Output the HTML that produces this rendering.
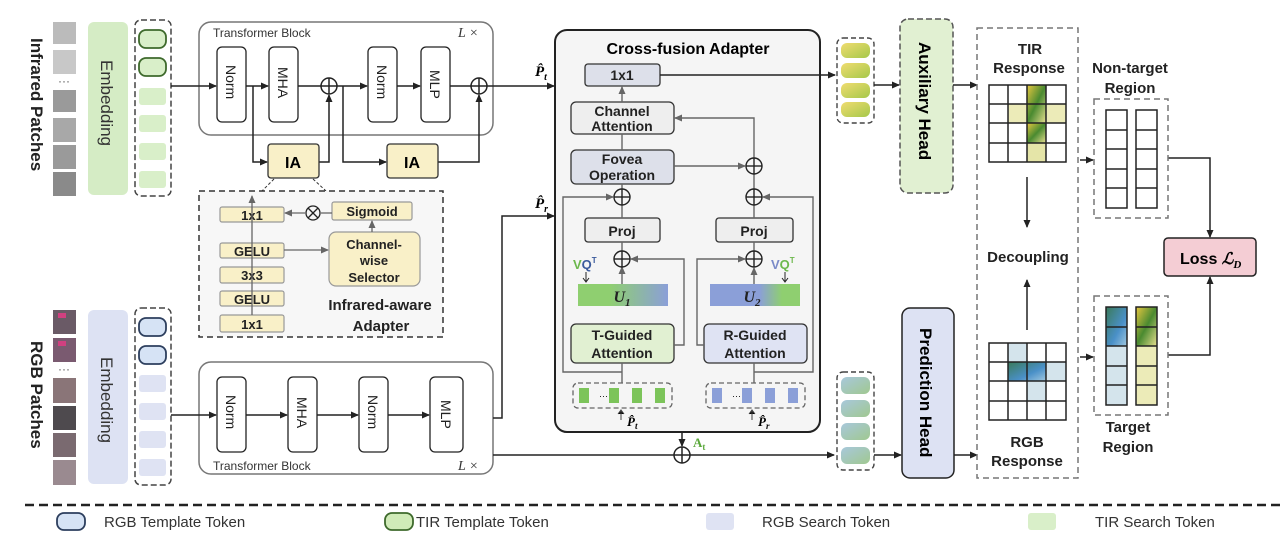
<!DOCTYPE html>
<html><head><meta charset="utf-8"><style>
body{margin:0;background:#fff;}
svg{display:block;font-family:"Liberation Sans",Arial,sans-serif;}
.b{font-weight:bold;}
</style></head><body>
<svg width="1280" height="543" viewBox="0 0 1280 543" xmlns="http://www.w3.org/2000/svg">
<defs>
<marker id="a" markerWidth="8" markerHeight="8" refX="7" refY="4" orient="auto" markerUnits="userSpaceOnUse"><path d="M0,0.5 L8,4 L0,7.5 z" fill="#222"/></marker>
<marker id="g" markerWidth="8" markerHeight="8" refX="7" refY="4" orient="auto" markerUnits="userSpaceOnUse"><path d="M0,0.5 L8,4 L0,7.5 z" fill="#666"/></marker>
<linearGradient id="u1" x1="0" x2="1"><stop offset="0.35" stop-color="#8fcf70"/><stop offset="1" stop-color="#8b9fd8"/></linearGradient>
<linearGradient id="u2" x1="0" x2="1"><stop offset="0.55" stop-color="#8b9fd8"/><stop offset="0.8" stop-color="#8fcf70"/></linearGradient>
<linearGradient id="yt" x1="0" y1="0" x2="1" y2="1"><stop offset="0" stop-color="#f0dc70"/><stop offset="1" stop-color="#a5c84a"/></linearGradient>
<linearGradient id="bt" x1="0" y1="0" x2="1" y2="1"><stop offset="0" stop-color="#a8c8dc"/><stop offset="1" stop-color="#a0c890"/></linearGradient>
<linearGradient id="hy" x1="0" y1="0" x2="1" y2="1"><stop offset="0" stop-color="#e8c840"/><stop offset="0.5" stop-color="#4a8a30"/><stop offset="1" stop-color="#e8e090"/></linearGradient>
<linearGradient id="hb" x1="0" y1="0" x2="1" y2="1"><stop offset="0" stop-color="#3a7a5a"/><stop offset="0.6" stop-color="#4a90c8"/><stop offset="1" stop-color="#a0c8e0"/></linearGradient>
</defs>

<!-- Infrared patches -->
<text class="b" font-size="17" transform="translate(31,38) rotate(90)" fill="#222">Infrared Patches</text>
<g fill="#9a9a9a">
<rect x="53" y="22" width="23" height="22" fill="#bbb"/><rect x="53" y="50" width="23" height="24" fill="#c8c8c8"/>
<rect x="53" y="90" width="23" height="22"/><rect x="53" y="118" width="23" height="24" fill="#a8a8a8"/>
<rect x="53" y="145" width="23" height="24"/><rect x="53" y="172" width="23" height="24" fill="#8a8a8a"/>
</g>
<text x="64" y="85" font-size="12" text-anchor="middle" fill="#555">···</text>
<rect x="88" y="22" width="40" height="173" rx="6" fill="#d5ecc5"/>
<text font-size="17" transform="translate(101,60) rotate(90)" fill="#333">Embedding</text>
<rect x="135" y="20" width="36" height="176" rx="6" fill="none" stroke="#444" stroke-dasharray="6,3" stroke-width="1.5"/>
<rect x="139" y="30" width="27" height="18" rx="7" fill="#d9efc9" stroke="#3e6a2c" stroke-width="1.8"/>
<rect x="139" y="58" width="27" height="18" rx="7" fill="#d9efc9" stroke="#3e6a2c" stroke-width="1.8"/>
<g fill="#d9efc9"><rect x="139" y="88" width="27" height="17" rx="3"/><rect x="139" y="115" width="27" height="17" rx="3"/><rect x="139" y="143" width="27" height="17" rx="3"/><rect x="139" y="171" width="27" height="17" rx="3"/></g>

<!-- Top transformer -->
<rect x="199" y="22" width="294" height="113" rx="12" fill="#fff" stroke="#777" stroke-width="1.5"/>
<text x="213" y="37" font-size="12" fill="#333">Transformer Block</text>
<text x="458" y="37" font-size="14" fill="#333" font-style="italic" font-family="Liberation Serif">L ×</text>
<g fill="#fff" stroke="#222" stroke-width="1.3">
<rect x="217" y="47" width="29" height="75" rx="5"/><rect x="269" y="47" width="29" height="75" rx="5"/>
<rect x="368" y="47" width="29" height="75" rx="5"/><rect x="421" y="47" width="29" height="75" rx="5"/>
</g>
<g font-size="14" fill="#222">
<text transform="translate(226,65) rotate(90)">Norm</text><text transform="translate(278,67) rotate(90)">MHA</text>
<text transform="translate(377,65) rotate(90)">Norm</text><text transform="translate(430,70) rotate(90)">MLP</text>
</g>
<g stroke="#222" stroke-width="1.5" fill="none">
<line x1="171" y1="86" x2="216" y2="86" marker-end="url(#a)"/>
<line x1="246" y1="86" x2="268" y2="86" marker-end="url(#a)"/>
<line x1="298" y1="86" x2="321" y2="86"/>
<line x1="337" y1="86" x2="367" y2="86" marker-end="url(#a)"/>
<line x1="397" y1="86" x2="420" y2="86" marker-end="url(#a)"/>
<line x1="450" y1="86" x2="471" y2="86"/>
<line x1="487" y1="86" x2="554" y2="86" marker-end="url(#a)"/>
<polyline points="253,86 253,162 267,162" marker-end="url(#a)"/>
<polyline points="319,162 329,162 329,95" marker-end="url(#a)"/>
<polyline points="343,86 343,162 386,162" marker-end="url(#a)"/>
<polyline points="438,162 479,162 479,95" marker-end="url(#a)"/>
<circle cx="329" cy="86" r="8"/><line x1="321" y1="86" x2="337" y2="86"/><line x1="329" y1="78" x2="329" y2="94"/>
<circle cx="479" cy="86" r="8"/><line x1="471" y1="86" x2="487" y2="86"/><line x1="479" y1="78" x2="479" y2="94"/>
</g>
<text x="535" y="76" font-size="15" class="b" font-style="italic" font-family="Liberation Serif">P̂<tspan font-size="10" dy="4">t</tspan></text>
<rect x="268" y="144" width="51" height="34" rx="3" fill="#f9f0c8" stroke="#333" stroke-width="1.3"/>
<rect x="387" y="144" width="51" height="34" rx="3" fill="#f9f0c8" stroke="#333" stroke-width="1.3"/>
<text x="293" y="168" font-size="16" class="b" text-anchor="middle">IA</text>
<text x="412" y="168" font-size="16" class="b" text-anchor="middle">IA</text>

<!-- Infrared-aware adapter -->
<line x1="274" y1="179" x2="262" y2="191" stroke="#333" stroke-dasharray="3,2"/>
<line x1="313" y1="179" x2="326" y2="191" stroke="#333" stroke-dasharray="3,2"/>
<rect x="199" y="191" width="244" height="146" fill="#f7f7f7" stroke="#333" stroke-width="1.5" stroke-dasharray="6,4"/>
<g fill="#f9f0c8" stroke="#999" stroke-width="1.2">
<rect x="220" y="207" width="64" height="15" rx="2"/><rect x="220" y="243" width="64" height="15" rx="2"/>
<rect x="220" y="267" width="64" height="16" rx="2"/><rect x="220" y="291" width="64" height="15" rx="2"/>
<rect x="220" y="315" width="64" height="17" rx="2"/>
<rect x="332" y="202" width="80" height="18" rx="2"/>
<rect x="329" y="232" width="91" height="54" rx="7"/>
</g>
<g font-size="13" class="b" text-anchor="middle" fill="#222">
<text x="252" y="220">1x1</text><text x="252" y="256">GELU</text><text x="252" y="280">3x3</text><text x="252" y="304">GELU</text><text x="252" y="329">1x1</text>
<text x="372" y="216">Sigmoid</text>
<text x="374" y="249">Channel-</text><text x="374" y="265">wise</text><text x="374" y="282">Selector</text>
<text x="380" y="310" font-size="15">Infrared-aware</text><text x="381" y="331" font-size="15">Adapter</text>
</g>
<g stroke="#666" stroke-width="1.3" fill="none">
<line x1="252" y1="315" x2="252" y2="196" marker-end="url(#g)"/>
<line x1="284" y1="250" x2="328" y2="250" marker-end="url(#g)"/>
<line x1="372" y1="232" x2="372" y2="221" marker-end="url(#g)"/>
<line x1="332" y1="213" x2="321" y2="213"/>
<line x1="305" y1="213" x2="285" y2="213" marker-end="url(#g)"/>
<circle cx="313" cy="213" r="7" stroke="#222"/><line x1="308" y1="208" x2="318" y2="218" stroke="#222"/><line x1="318" y1="208" x2="308" y2="218" stroke="#222"/>
</g>

<!-- RGB -->
<text class="b" font-size="17" transform="translate(31,341) rotate(90)" fill="#222">RGB Patches</text>
<g>
<rect x="53" y="310" width="23" height="24" fill="#6a5a66"/><rect x="53" y="338" width="23" height="24" fill="#7a5a70"/>
<rect x="53" y="378" width="23" height="25" fill="#8a7578"/><rect x="53" y="406" width="23" height="24" fill="#4e4a4e"/>
<rect x="53" y="433" width="23" height="24" fill="#7a6a70"/><rect x="53" y="460" width="23" height="25" fill="#9a8a90"/>
<rect x="58" y="313" width="8" height="5" fill="#d04080"/><rect x="58" y="341" width="8" height="5" fill="#d04080"/>
</g>
<text x="64" y="373" font-size="12" text-anchor="middle" fill="#555">···</text>
<rect x="88" y="310" width="40" height="174" rx="6" fill="#dde2f3"/>
<text font-size="17" transform="translate(101,357) rotate(90)" fill="#333">Embedding</text>
<rect x="135" y="308" width="36" height="177" rx="6" fill="none" stroke="#444" stroke-dasharray="6,3" stroke-width="1.5"/>
<rect x="139" y="318" width="27" height="18" rx="7" fill="#d6e3f5" stroke="#2d3f5e" stroke-width="1.8"/>
<rect x="139" y="346" width="27" height="18" rx="7" fill="#d6e3f5" stroke="#2d3f5e" stroke-width="1.8"/>
<g fill="#dfe3f3"><rect x="139" y="375" width="27" height="17" rx="3"/><rect x="139" y="403" width="27" height="17" rx="3"/><rect x="139" y="431" width="27" height="17" rx="3"/><rect x="139" y="459" width="27" height="17" rx="3"/></g>

<rect x="199" y="362" width="294" height="112" rx="12" fill="#fff" stroke="#777" stroke-width="1.5"/>
<text x="213" y="470" font-size="12" fill="#333">Transformer Block</text>
<text x="458" y="470" font-size="14" fill="#333" font-style="italic" font-family="Liberation Serif">L ×</text>
<g fill="#fff" stroke="#222" stroke-width="1.3">
<rect x="217" y="377" width="29" height="75" rx="5"/><rect x="288" y="377" width="29" height="75" rx="5"/>
<rect x="359" y="377" width="29" height="75" rx="5"/><rect x="430" y="377" width="33" height="75" rx="5"/>
</g>
<g font-size="14" fill="#222">
<text transform="translate(226,395) rotate(90)">Norm</text><text transform="translate(297,397) rotate(90)">MHA</text>
<text transform="translate(368,395) rotate(90)">Norm</text><text transform="translate(441,400) rotate(90)">MLP</text>
</g>
<g stroke="#222" stroke-width="1.5" fill="none">
<line x1="171" y1="415" x2="216" y2="415" marker-end="url(#a)"/>
<line x1="246" y1="415" x2="287" y2="415" marker-end="url(#a)"/>
<line x1="317" y1="415" x2="358" y2="415" marker-end="url(#a)"/>
<line x1="388" y1="415" x2="429" y2="415" marker-end="url(#a)"/>
<polyline points="493,418 502,418 502,216 554,216" marker-end="url(#a)"/>
<polyline points="493,455 674,455"/>
<line x1="690" y1="455" x2="834" y2="455" marker-end="url(#a)"/>
<line x1="682" y1="432" x2="682" y2="446" marker-end="url(#a)"/>
<circle cx="682" cy="455" r="8"/><line x1="674" y1="455" x2="690" y2="455"/><line x1="682" y1="447" x2="682" y2="463"/>
</g>
<text x="535" y="208" font-size="15" class="b" font-style="italic" font-family="Liberation Serif">P̂<tspan font-size="10" dy="4">r</tspan></text>
<text x="693" y="447" font-size="13" class="b" fill="#5aa83a" font-family="Liberation Serif">A<tspan font-size="9" dy="3">t</tspan></text>

<!-- Cross-fusion -->
<rect x="555" y="30" width="265" height="402" rx="12" fill="#f5f5f5" stroke="#222" stroke-width="2"/>
<text x="688" y="54" font-size="16" class="b" text-anchor="middle">Cross-fusion Adapter</text>
<g stroke="#333" stroke-width="1.3">
<rect x="585" y="64" width="75" height="22" rx="3" fill="#dde0ea"/>
<rect x="571" y="102" width="103" height="32" rx="5" fill="#eeeeee"/>
<rect x="571" y="150" width="103" height="34" rx="5" fill="#dde0ea"/>
<rect x="585" y="218" width="75" height="24" rx="3" fill="#eeeeee"/>
<rect x="716" y="218" width="77" height="24" rx="3" fill="#eeeeee"/>
<rect x="571" y="324" width="103" height="39" rx="5" fill="#e1f0d2"/>
<rect x="704" y="324" width="103" height="39" rx="5" fill="#dfe3f3"/>
</g>
<rect x="578" y="284" width="90" height="22" fill="url(#u1)"/>
<rect x="710" y="284" width="90" height="22" fill="url(#u2)"/>
<g font-size="14" class="b" text-anchor="middle" fill="#222">
<text x="622" y="80">1x1</text>
<text x="622" y="116">Channel</text><text x="622" y="131">Attention</text>
<text x="622" y="164">Fovea</text><text x="622" y="180">Operation</text>
<text x="622" y="236">Proj</text><text x="754" y="236">Proj</text>
<text x="622" y="340">T-Guided</text><text x="622" y="358">Attention</text>
<text x="755" y="340">R-Guided</text><text x="755" y="358">Attention</text>
<text x="622" y="302" font-style="italic" font-family="Liberation Serif" font-size="16">U<tspan font-size="11" dy="4">1</tspan></text>
<text x="752" y="302" font-style="italic" font-family="Liberation Serif" font-size="16">U<tspan font-size="11" dy="4">2</tspan></text>
</g>
<text x="573" y="269" font-size="13" class="b"><tspan fill="#6cb84c">V</tspan><tspan fill="#3a5a9c">Q</tspan><tspan font-size="8" dy="-6" fill="#3a5a9c">T</tspan></text>
<text x="771" y="269" font-size="13" class="b"><tspan fill="#7a8ac8">V</tspan><tspan fill="#6cb84c">Q</tspan><tspan font-size="8" dy="-6" fill="#6cb84c">T</tspan></text>
<g stroke="#222" stroke-width="1" fill="none">
<path d="M586,272 L586,281 M583,278 L586,282 L589,278"/>
<path d="M785,272 L785,281 M782,278 L785,282 L788,278"/>
</g>
<!-- token rows -->
<rect x="573" y="383" width="99" height="25" rx="5" fill="none" stroke="#666" stroke-dasharray="5,3" stroke-width="1.3"/>
<rect x="706" y="383" width="99" height="25" rx="5" fill="none" stroke="#666" stroke-dasharray="5,3" stroke-width="1.3"/>
<g fill="#7cc45a"><rect x="579" y="388" width="10" height="15"/><rect x="609" y="388" width="10" height="15"/><rect x="632" y="388" width="10" height="15"/><rect x="655" y="388" width="10" height="15"/></g>
<g fill="#8b9fd8"><rect x="712" y="388" width="10" height="15"/><rect x="742" y="388" width="10" height="15"/><rect x="765" y="388" width="10" height="15"/><rect x="788" y="388" width="10" height="15"/></g>
<text x="599" y="399" font-size="9">···</text><text x="732" y="399" font-size="9">···</text>
<g stroke="#444" stroke-width="1"><path d="M621,420 L621,411 M618,414 L621,410 L624,414"/><path d="M752,420 L752,411 M749,414 L752,410 L755,414"/></g>
<text x="627" y="426" font-size="13" font-style="italic" font-family="Liberation Serif" class="b">P̂<tspan font-size="9" dy="3">t</tspan></text>
<text x="758" y="426" font-size="13" font-style="italic" font-family="Liberation Serif" class="b">P̂<tspan font-size="9" dy="3">r</tspan></text>
<g stroke="#666" stroke-width="1.4" fill="none">
<line x1="622" y1="102" x2="622" y2="87" marker-end="url(#g)"/>
<line x1="622" y1="150" x2="622" y2="134"/>
<line x1="622" y1="218" x2="622" y2="205"/><line x1="622" y1="189" x2="622" y2="184"/>
<line x1="622" y1="284" x2="622" y2="267" marker-end="url(#g)"/>
<line x1="622" y1="251" x2="622" y2="242"/>
<line x1="622" y1="383" x2="622" y2="363"/>
<polyline points="622,372 563,372 563,197 613,197" marker-end="url(#g)"/>
<polyline points="674,345 684,345 684,259 631,259" marker-end="url(#g)"/>
<polyline points="704,345 697,345 697,259 745,259" marker-end="url(#g)"/>
<line x1="754" y1="284" x2="754" y2="268" marker-end="url(#g)"/>
<line x1="754" y1="251" x2="754" y2="242"/>
<line x1="754" y1="218" x2="754" y2="205"/>
<line x1="754" y1="189" x2="754" y2="174"/>
<line x1="754" y1="383" x2="754" y2="363"/>
<polyline points="754,372 813,372 813,197 763,197" marker-end="url(#g)"/>
<line x1="674" y1="166" x2="745" y2="166" marker-end="url(#g)"/>
<polyline points="754,158 754,118 675,118" marker-end="url(#g)"/>
</g>
<g stroke="#222" stroke-width="1.4" fill="none">
<circle cx="622" cy="197" r="8"/><line x1="614" y1="197" x2="630" y2="197"/><line x1="622" y1="189" x2="622" y2="205"/>
<circle cx="622" cy="259" r="8"/><line x1="614" y1="259" x2="630" y2="259"/><line x1="622" y1="251" x2="622" y2="267"/>
<circle cx="754" cy="166" r="8"/><line x1="746" y1="166" x2="762" y2="166"/><line x1="754" y1="158" x2="754" y2="174"/>
<circle cx="754" cy="197" r="8"/><line x1="746" y1="197" x2="762" y2="197"/><line x1="754" y1="189" x2="754" y2="205"/>
<circle cx="754" cy="259" r="8"/><line x1="746" y1="259" x2="762" y2="259"/><line x1="754" y1="251" x2="754" y2="267"/>
</g>
<line x1="660" y1="75" x2="835" y2="75" stroke="#222" stroke-width="1.5" marker-end="url(#a)"/>

<!-- right tokens & heads -->
<rect x="837" y="38" width="37" height="85" rx="6" fill="none" stroke="#444" stroke-dasharray="5,3" stroke-width="1.4"/>
<g fill="url(#yt)"><rect x="841" y="43" width="29" height="15" rx="6"/><rect x="841" y="63" width="29" height="15" rx="6"/><rect x="841" y="83" width="29" height="15" rx="6"/><rect x="841" y="102" width="29" height="15" rx="6"/></g>
<rect x="837" y="372" width="37" height="98" rx="6" fill="none" stroke="#444" stroke-dasharray="5,3" stroke-width="1.4"/>
<g fill="url(#bt)"><rect x="841" y="377" width="29" height="17" rx="6"/><rect x="841" y="400" width="29" height="17" rx="6"/><rect x="841" y="423" width="29" height="17" rx="6"/><rect x="841" y="447" width="29" height="17" rx="6"/></g>
<rect x="900" y="19" width="53" height="174" rx="8" fill="#e1f0d2" stroke="#555" stroke-dasharray="6,3" stroke-width="1.5"/>
<text class="b" font-size="17" transform="translate(919,42) rotate(90)">Auxiliary Head</text>
<rect x="902" y="308" width="52" height="170" rx="8" fill="#dde2f3" stroke="#222" stroke-width="1.5"/>
<text class="b" font-size="17" transform="translate(920,328) rotate(90)">Prediction Head</text>
<g stroke="#222" stroke-width="1.5">
<line x1="874" y1="85" x2="899" y2="85" marker-end="url(#a)"/>
<line x1="953" y1="85" x2="977" y2="85" marker-end="url(#a)"/>
<line x1="874" y1="455" x2="901" y2="455" marker-end="url(#a)"/>
<line x1="954" y1="455" x2="977" y2="455" marker-end="url(#a)"/>
</g>

<!-- response -->
<rect x="977" y="28" width="101" height="450" fill="#fff" stroke="#777" stroke-dasharray="6,4" stroke-width="1.5"/>
<g font-size="15" class="b" text-anchor="middle" fill="#222">
<text x="1030" y="54">TIR</text><text x="1029" y="73">Response</text>
<text x="1028" y="262">Decoupling</text>
<text x="1027" y="447">RGB</text><text x="1027" y="466">Response</text>
<text x="1130" y="73">Non-target</text><text x="1130" y="93">Region</text>
<text x="1128" y="432">Target</text><text x="1128" y="452">Region</text>
</g>
<g>
<rect x="1008" y="104" width="19" height="19" fill="#ecebb8"/><rect x="1046" y="104" width="20" height="19" fill="#ecebb8"/>
<rect x="1027" y="85" width="19" height="38" fill="url(#hy)"/><rect x="1027" y="123" width="19" height="20" fill="url(#hy)"/>
<rect x="1027" y="143" width="19" height="19" fill="#e5e5a8"/>
<rect x="1008" y="362" width="38" height="19" fill="url(#hb)"/><rect x="1008" y="343" width="19" height="19" fill="#d4e4ec"/>
<rect x="1046" y="362" width="20" height="19" fill="#d4e4ec"/><rect x="1027" y="381" width="19" height="20" fill="#d4e4ec"/>
</g>
<g stroke="#222" stroke-width="1.5" fill="none">
<rect x="989" y="85" width="77" height="77"/><path d="M1008,85V162M1027,85V162M1046,85V162M989,104H1066M989,123H1066M989,143H1066"/>
<rect x="989" y="343" width="77" height="77"/><path d="M1008,343V420M1027,343V420M1046,343V420M989,362H1066M989,381H1066M989,401H1066"/>
<line x1="1027" y1="177" x2="1027" y2="227" marker-end="url(#a)"/>
<line x1="1027" y1="330" x2="1027" y2="280" marker-end="url(#a)"/>
<line x1="1080" y1="160" x2="1093" y2="160" marker-end="url(#a)"/>
<line x1="1080" y1="357" x2="1093" y2="357" marker-end="url(#a)"/>
<polyline points="1168,158 1210,158 1210,237" marker-end="url(#a)"/>
<polyline points="1168,355 1210,355 1210,277" marker-end="url(#a)"/>
</g>
<rect x="1094" y="99" width="74" height="119" fill="none" stroke="#777" stroke-dasharray="6,4" stroke-width="1.5"/>
<rect x="1094" y="296" width="74" height="119" fill="none" stroke="#777" stroke-dasharray="6,4" stroke-width="1.5"/>
<rect x="1106" y="307" width="21" height="98" fill="#d4e4ec"/><rect x="1106" y="307" width="21" height="39" fill="url(#hb)"/>
<rect x="1136" y="307" width="21" height="98" fill="#ecebb8"/><rect x="1136" y="307" width="21" height="39" fill="url(#hy)"/>
<g stroke="#222" stroke-width="1.5" fill="none">
<rect x="1106" y="110" width="21" height="98"/><rect x="1136" y="110" width="21" height="98"/>
<path d="M1106,130H1127M1106,149H1127M1106,169H1127M1106,188H1127M1136,130H1157M1136,149H1157M1136,169H1157M1136,188H1157"/>
<rect x="1106" y="307" width="21" height="98"/><rect x="1136" y="307" width="21" height="98"/>
<path d="M1106,327H1127M1106,346H1127M1106,366H1127M1106,385H1127M1136,327H1157M1136,346H1157M1136,366H1157M1136,385H1157"/>
</g>
<rect x="1164" y="238" width="92" height="38" rx="4" fill="#f4cdd4" stroke="#222" stroke-width="1.5"/>
<text x="1180" y="264" font-size="16" class="b">Loss <tspan font-style="italic" font-family="Liberation Serif">ℒ<tspan font-size="11" dy="4">D</tspan></tspan></text>

<!-- legend -->
<line x1="25" y1="505" x2="1280" y2="505" stroke="#222" stroke-width="2.5" stroke-dasharray="9,5"/>
<rect x="57" y="513" width="28" height="17" rx="7" fill="#d6e3f5" stroke="#2d3f5e" stroke-width="1.8"/>
<text x="104" y="527" font-size="15" fill="#333">RGB Template Token</text>
<rect x="385" y="513" width="28" height="17" rx="7" fill="#d0ebb8" stroke="#3e6a2c" stroke-width="1.8"/>
<text x="416" y="527" font-size="15" fill="#333">TIR Template Token</text>
<rect x="706" y="513" width="28" height="17" rx="3" fill="#dfe3f3"/>
<text x="762" y="527" font-size="15" fill="#333">RGB Search Token</text>
<rect x="1028" y="513" width="28" height="17" rx="3" fill="#d9efc9"/>
<text x="1095" y="527" font-size="15" fill="#333">TIR Search Token</text>
</svg>
</body></html>
